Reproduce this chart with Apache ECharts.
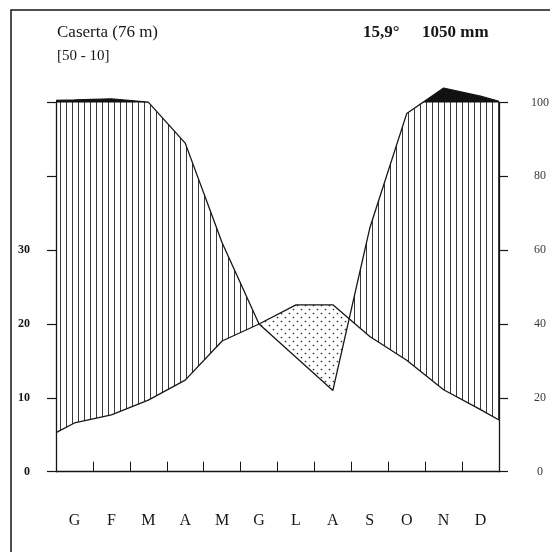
<!DOCTYPE html>
<html>
<head>
<meta charset="utf-8">
<script src="https://cdn.jsdelivr.net/npm/echarts@6/dist/echarts.min.js"></script>
<style>
html, body { margin: 0; padding: 0; background: #fff; }
#main { width: 550px; height: 552px; }
</style>
</head>
<body>
<div id="main"></div>
<script>
// Caserta climate diagram (Walter-Lieth style)
var months = ['G', 'F', 'M', 'A', 'M', 'G', 'L', 'A', 'S', 'O', 'N', 'D'];
var temp = [6.6, 7.7, 9.7, 12.4, 17.7, 20.0, 22.6, 22.6, 18.3, 15.1, 11.1, 8.4];   // °C
var tempEnds = [5.3, 7.0];                                                         // values drawn at the two frame edges
var rain = [107, 110, 101, 89, 62, 40, 31, 22, 66, 97, 139, 117];                  // mm
var rainEnds = [106, 103];
var tempTicks = [0, 10, 20, 30];
var rainTicks = [0, 20, 40, 60, 80, 100];

var FONT = 'Liberation Serif';
var INK = '#161616';

// above 100 mm the scale is reduced to 1/10
function rainScale(p) { return p <= 100 ? p : 100 + (p - 100) / 10; }

var xs = [0].concat(months.map(function (m, i) { return i + 0.5; }), [12]);
var tAll = [tempEnds[0]].concat(temp, [tempEnds[1]]);
var pAll = [rainEnds[0]].concat(rain, [rainEnds[1]]);
var tUnits = tAll.map(function (t) { return t * 2; });   // 10 °C = 20 mm
var pUnits = pAll.map(rainScale);
var cap = xs.map(function () { return 100; });

// polygons where up > lo, split at the crossings
function regions(up, lo) {
    var polys = [], top = [], bot = [];
    for (var i = 0; i < xs.length; i++) {
        var d = up[i] - lo[i];
        if (i > 0) {
            var dp = up[i - 1] - lo[i - 1];
            if ((dp > 0) !== (d > 0)) {
                var t = dp / (dp - d);
                var x = xs[i - 1] + t * (xs[i] - xs[i - 1]);
                var v = lo[i - 1] + t * (lo[i] - lo[i - 1]);
                top.push([x, v]); bot.push([x, v]);
                if (dp > 0) {
                    polys.push(top.concat(bot.reverse()));
                    top = []; bot = [];
                }
            }
        }
        if (d > 0) { top.push([xs[i], up[i]]); bot.push([xs[i], lo[i]]); }
    }
    if (top.length) polys.push(top.concat(bot.reverse()));
    return polys;
}

function makePattern(w, h, draw) {
    var c = document.createElement('canvas');
    c.width = w; c.height = h;
    draw(c.getContext('2d'));
    return { image: c, repeat: 'repeat' };
}
var hatch = makePattern(6, 6, function (ctx) {
    ctx.fillStyle = '#383838';
    ctx.fillRect(0, 0, 1, 6);
});
var dots = makePattern(8, 8, function (ctx) {
    ctx.fillStyle = '#2a2a2a';
    ctx.beginPath(); ctx.arc(1.5, 1.5, 0.85, 0, Math.PI * 2); ctx.fill();
    ctx.beginPath(); ctx.arc(5.5, 5.5, 0.85, 0, Math.PI * 2); ctx.fill();
});

var myChart = echarts.init(document.getElementById('main'));
var option = {
    animation: false,
    backgroundColor: '#fff',
    grid: { left: 56, right: 51, top: 102.5, bottom: 80.3, containLabel: false, outerBoundsMode: 'none' },
    graphic: [
        { type: 'rect', shape: { x: 11, y: 10, width: 600, height: 600 },
          style: { fill: null, stroke: INK, lineWidth: 1.5 }, silent: true },
        { type: 'text', left: 57, top: 24,
          style: { text: 'Caserta (76 m)', font: '17px "' + FONT + '"', fill: INK } },
        { type: 'text', left: 57, top: 49,
          style: { text: '[50 - 10]', font: '15px "' + FONT + '"', fill: INK } },
        { type: 'text', left: 363, top: 24,
          style: { text: '15,9°', font: 'bold 17px "' + FONT + '"', fill: INK } },
        { type: 'text', left: 422, top: 24,
          style: { text: '1050 mm', font: 'bold 17px "' + FONT + '"', fill: INK } }
    ],
    xAxis: [
        { type: 'value', min: 0, max: 12, interval: 1, position: 'bottom',
          axisLine: { onZero: false, lineStyle: { color: INK, width: 1.3 } },
          axisTick: { inside: true, length: 10, lineStyle: { color: INK, width: 1 } },
          axisLabel: { show: false }, splitLine: { show: false } },
        { type: 'category', data: months, position: 'bottom', boundaryGap: true,
          axisLine: { show: false }, axisTick: { show: false }, splitLine: { show: false },
          axisLabel: { margin: 41, fontFamily: FONT, fontSize: 16, color: INK, interval: 0 } }
    ],
    yAxis: [
        { type: 'value', min: 0, max: 50, interval: 10, position: 'left',
          axisLine: { show: true, lineStyle: { color: INK, width: 1.3 } },
          axisTick: { show: true, length: 9, lineStyle: { color: INK, width: 1.2 } },
          splitLine: { show: false },
          axisLabel: { margin: 26, fontFamily: FONT, fontSize: 12, fontWeight: 'bold', color: INK,
              formatter: function (v) { return tempTicks.indexOf(v) >= 0 ? String(v) : ''; } } },
        { type: 'value', min: 0, max: 100, interval: 20, position: 'right',
          axisLine: { show: true, lineStyle: { color: INK, width: 1.3 } },
          axisTick: { show: true, length: 9, lineStyle: { color: INK, width: 1.2 } },
          splitLine: { show: false },
          axisLabel: { margin: 41, align: 'center', fontFamily: FONT, fontSize: 12, color: '#3a3a3a',
              formatter: function (v) { return rainTicks.indexOf(v) >= 0 ? String(v) : ''; } } }
    ],
    series: [
        {
            type: 'custom', xAxisIndex: 0, yAxisIndex: 1, clip: false, silent: true, z: 1,
            data: [[0, 0]],
            renderItem: function (params, api) {
                var children = [];
                function add(polys, fill) {
                    polys.forEach(function (poly) {
                        children.push({
                            type: 'polygon',
                            shape: { points: poly.map(function (p) { return api.coord(p); }) },
                            style: { fill: fill, stroke: null }
                        });
                    });
                }
                add(regions(pUnits, tUnits), hatch);
                add(regions(tUnits, pUnits), dots);
                add(regions(pUnits, cap), '#111');
                return { type: 'group', children: children };
            }
        },
        {
            type: 'line', xAxisIndex: 0, yAxisIndex: 0, clip: false, z: 3,
            symbol: 'none', silent: true,
            lineStyle: { color: INK, width: 1.3 },
            data: xs.map(function (x, i) { return [x, tAll[i]]; })
        },
        {
            type: 'line', xAxisIndex: 0, yAxisIndex: 1, clip: false, z: 3,
            symbol: 'none', silent: true,
            lineStyle: { color: INK, width: 1.3 },
            data: xs.map(function (x, i) { return [x, pUnits[i]]; })
        }
    ]
};
if (option && typeof option === 'object') {
    myChart.setOption(option, true);
}
</script>
</body>
</html>
